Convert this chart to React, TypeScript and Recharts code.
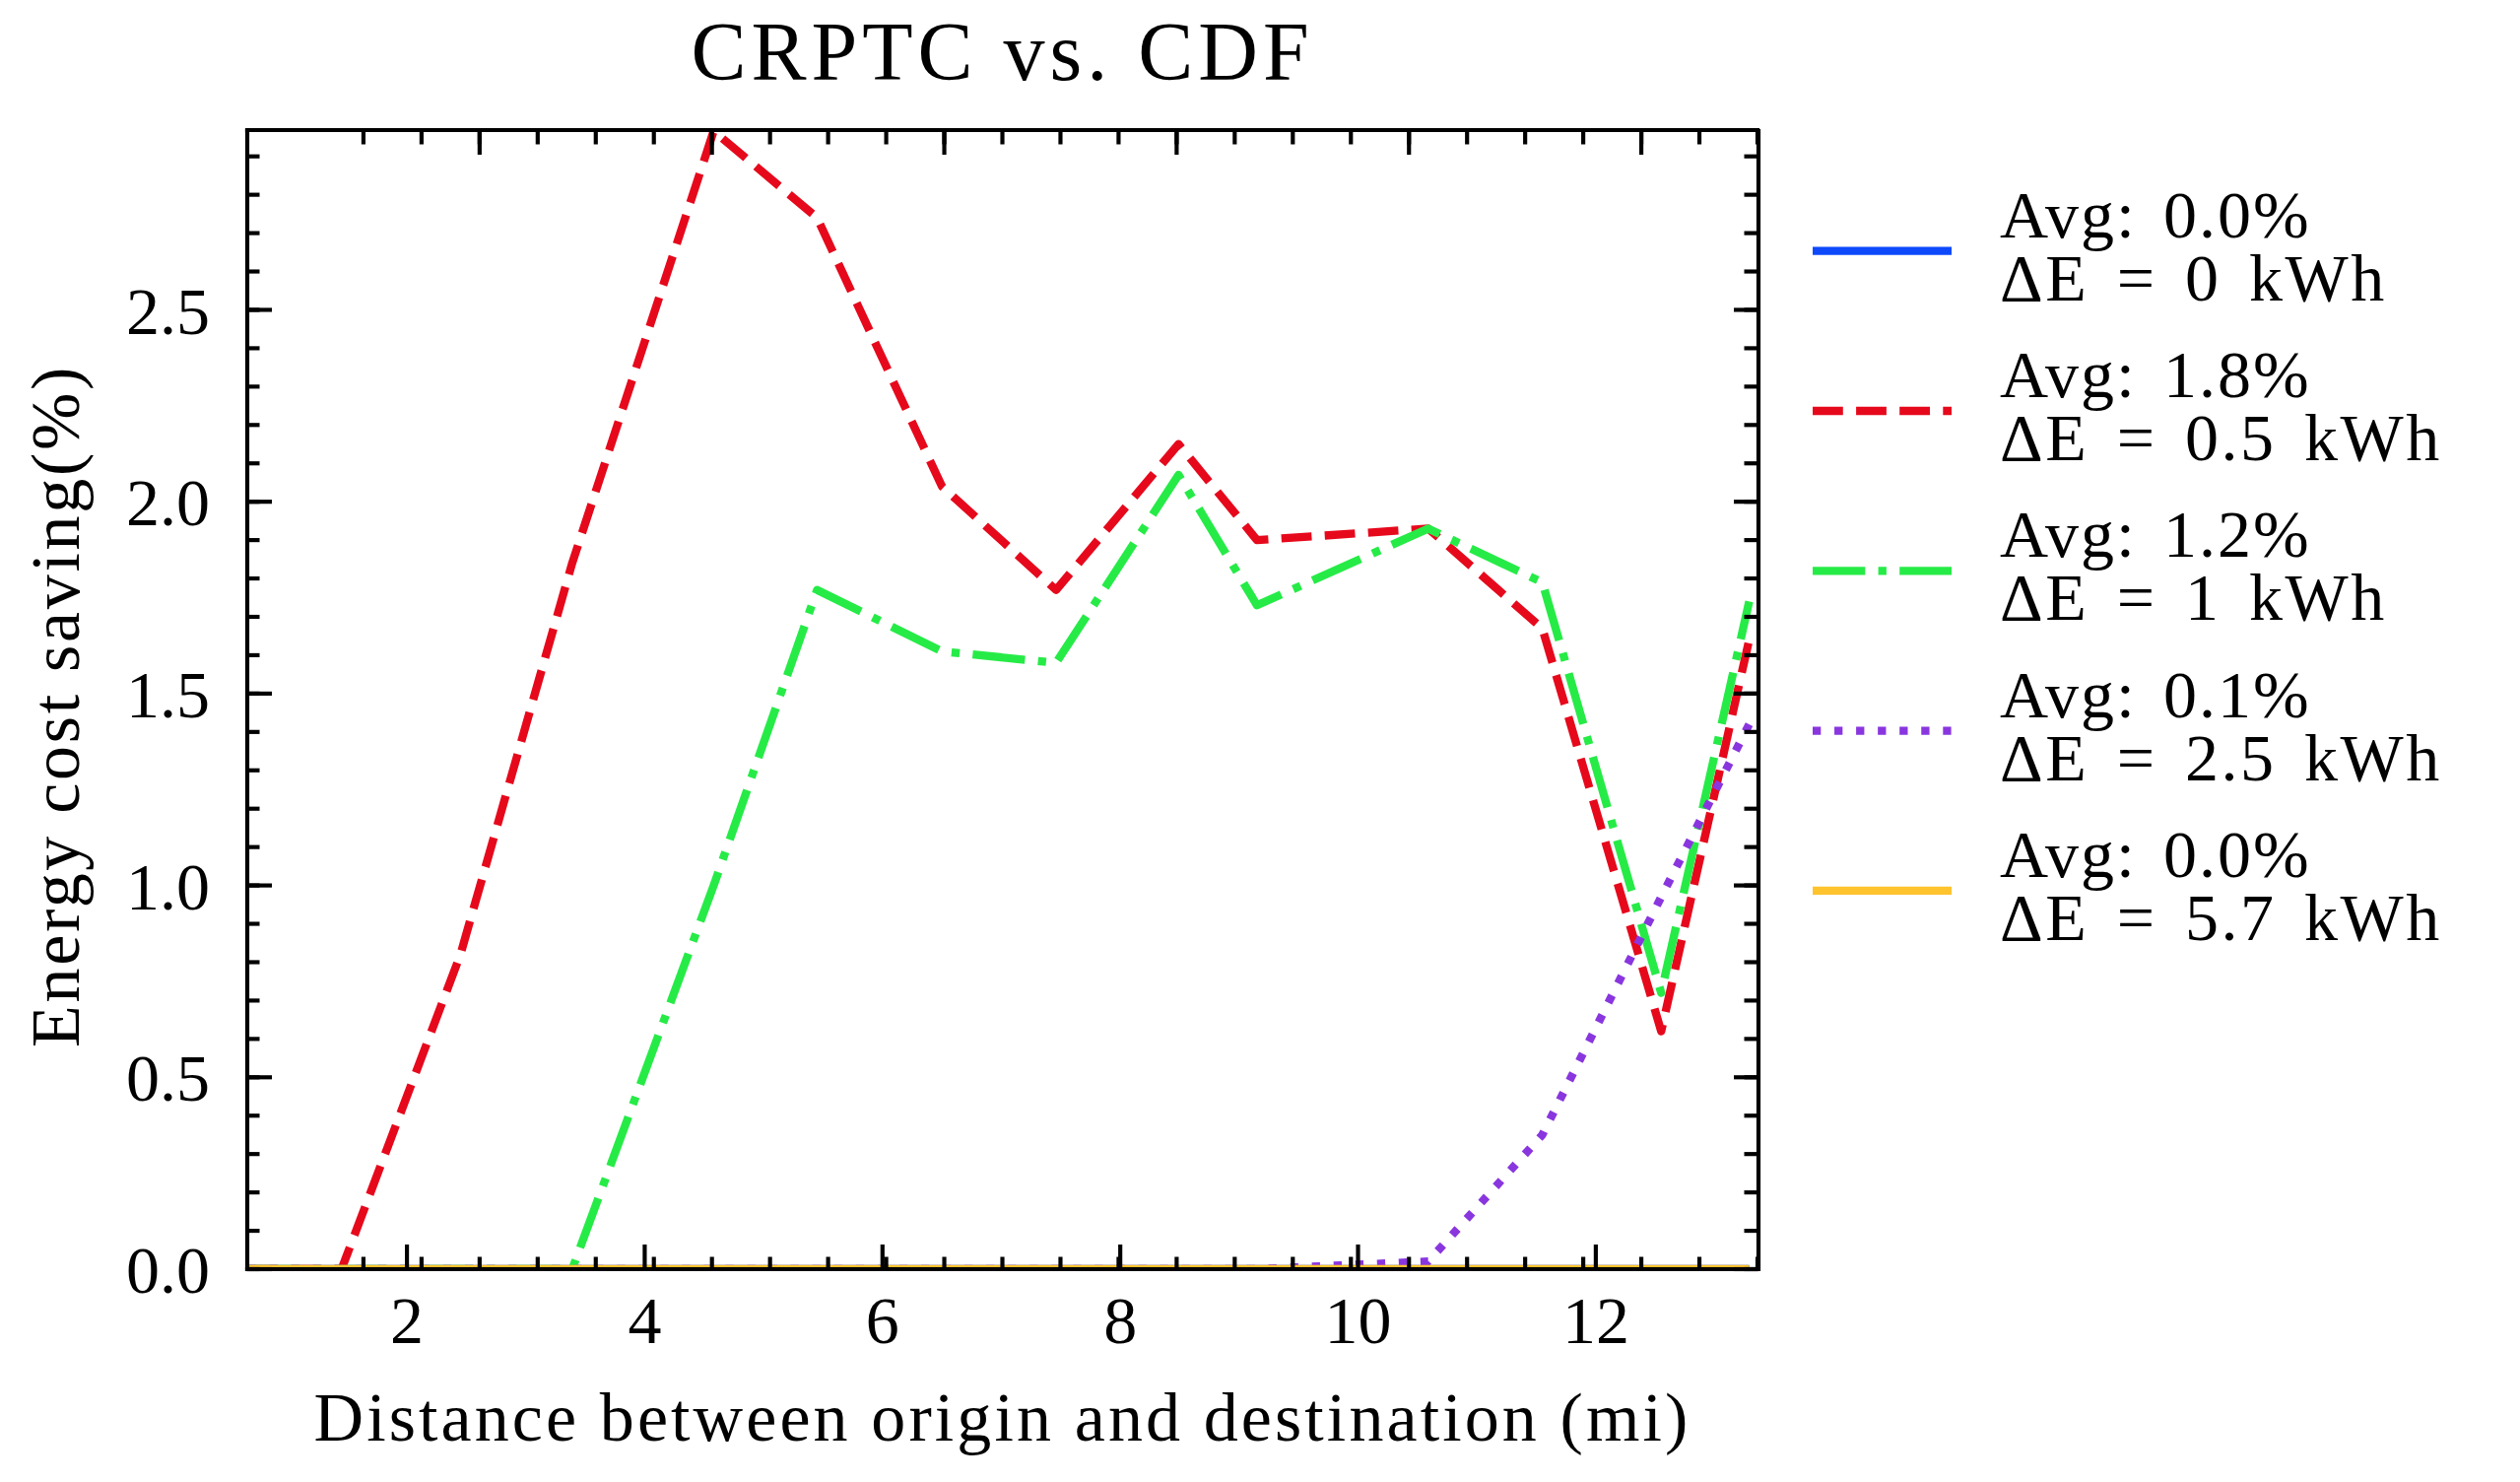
import React from "react";
import { LineChart, Line, XAxis, YAxis, Legend, Label } from "recharts";

// distance between origin and destination (mi)
const distance = [0.66, 1.45, 2.45, 3.39, 4.58, 5.45, 6.5, 7.46, 8.49, 9.15, 10.59, 11.55, 12.55, 13.29];

// energy cost saving (%) per delta-E setting
const savingE0 = [0, 0, 0, 0, 0, 0, 0, 0, 0, 0, 0, 0, 0, 0];
const savingE05 = [0, 0, 0.82, 1.84, 2.966, 2.74, 2.04, 1.77, 2.15, 1.9, 1.93, 1.67, 0.62, 1.64];
const savingE1 = [0, 0, 0, 0, 1.0, 1.77, 1.61, 1.58, 2.07, 1.73, 1.93, 1.79, 0.72, 1.74];
const savingE25 = [0, 0, 0, 0, 0, 0, 0, 0, 0, 0, 0.02, 0.35, 0.97, 1.42];
const savingE57 = [0, 0, 0, 0, 0, 0, 0, 0, 0, 0, 0, 0, 0, 0];

const avgLabels = ["0.0%", "1.8%", "1.2%", "0.1%", "0.0%"];
const deltaE = ["0", "0.5", "1", "2.5", "5.7"];

const xMajorTicks = [2, 4, 6, 8, 10, 12];
const yMajorTicks = [0, 0.5, 1, 1.5, 2, 2.5];
const xMinorTicks = Array.from({ length: 25 }, (_, i) => 1 + i * 0.5);
const yMinorTicks = Array.from({ length: 30 }, (_, i) => i / 10);

const X_DOMAIN = [0.657, 13.36];
const Y_DOMAIN = [0, 2.966];

const FONT = "'Liberation Serif', 'Times New Roman', serif";
const LW = 8.33;
const AXIS_W = 4.17;

const series = [
  { key: "e0", values: savingE0, color: "#0d49fb", dash: undefined },
  { key: "e05", values: savingE05, color: "#e6091c", dash: "30.8 13.3" },
  { key: "e1", values: savingE1, color: "#26eb47", dash: "53.3 13.3 8.3 13.3" },
  { key: "e25", values: savingE25, color: "#8936df", dash: "8.3 13.75" },
  { key: "e57", values: savingE57, color: "#fec32d", dash: undefined },
];

const data = distance.map((d, i) => {
  const row: Record<string, number> = { distance: d };
  series.forEach((s) => (row[s.key] = s.values[i]));
  return row;
});

const blankTick = () => <g />;
const lineStyle = { stroke: "#000", strokeWidth: AXIS_W };
const frameStyle = { stroke: "#000", strokeWidth: AXIS_W, strokeLinecap: "square" };

function LegendBox() {
  return (
    <svg width={728} height={860} style={{ overflow: "visible" }}>
      {series.map((s, i) => {
        const y = 104.7 + i * 162.3;
        return (
          <g key={s.key}>
            <line
              x1={10}
              x2={151}
              y1={y}
              y2={y}
              stroke={s.color}
              strokeWidth={LW}
              strokeDasharray={s.dash}
            />
            <text x={200} y={y - 14} fontFamily={FONT} fontSize={68} fill="#000" wordSpacing={8} letterSpacing={2}>
              {`Avg: ${avgLabels[i]}`}
            </text>
            <text x={200} y={y + 50} fontFamily={FONT} fontSize={68} fill="#000" wordSpacing={9} letterSpacing={2.5}>
              {`ΔE = ${deltaE[i]} kWh`}
            </text>
          </g>
        );
      })}
    </svg>
  );
}

const YLabel = (props: any) => {
  const vb = props.viewBox;
  const cx = vb.x + vb.width - 171;
  const cy = vb.y + vb.height / 2 + 6;
  return (
    <text
      x={cx}
      y={cy}
      transform={`rotate(-90, ${cx}, ${cy})`}
      textAnchor="middle"
      fontFamily={FONT}
      fontSize={70}
      letterSpacing={2.7}
      fill="#000"
    >
      Energy cost saving(%)
    </text>
  );
};

export default function App() {
  return (
    <div style={{ position: "absolute", left: 0, top: 0, background: "#fff" }}>
      <LineChart
        width={2558}
        height={1504}
        data={data}
        margin={{ top: 131, right: 772, bottom: 214, left: 249 }}
        style={{ fontFamily: FONT }}
      >
        {series.map((s) => (
          <Line
            key={s.key}
            xAxisId="main"
            yAxisId="main"
            type="linear"
            dataKey={s.key}
            stroke={s.color}
            strokeWidth={LW}
            strokeDasharray={s.dash}
            strokeLinejoin="round"
            dot={false}
            activeDot={false}
            isAnimationActive={false}
          />
        ))}

        <XAxis
          xAxisId="main"
          dataKey="distance"
          type="number"
          domain={X_DOMAIN}
          allowDataOverflow
          ticks={xMajorTicks}
          interval={0}
          height={1}
          tickSize={-25}
          tickMargin={52}
          tickLine={lineStyle}
          axisLine={frameStyle}
          tick={{ fontSize: 68, fill: "#000", fontFamily: FONT }}
        >
          <Label
            value="Distance between origin and destination (mi)"
            position="bottom"
            offset={123}
            fontSize={70}
            letterSpacing={3.1}
            fill="#000"
            fontFamily={FONT}
          />
        </XAxis>
        <XAxis
          xAxisId="minorBottom"
          type="number"
          domain={X_DOMAIN}
          allowDataOverflow
          ticks={xMinorTicks}
          interval={0}
          height={1}
          tickSize={-13.5}
          tickLine={lineStyle}
          axisLine={false}
          tick={blankTick}
        />
        <XAxis
          xAxisId="top"
          orientation="top"
          type="number"
          domain={X_DOMAIN}
          allowDataOverflow
          ticks={xMajorTicks}
          interval={0}
          height={1}
          tickSize={-25}
          tickLine={lineStyle}
          axisLine={frameStyle}
          tick={blankTick}
        >
          <Label
            value="CRPTC vs. CDF"
            position="top"
            offset={50}
            fontSize={84}
            letterSpacing={5}
            fill="#000"
            fontFamily={FONT}
          />
        </XAxis>
        <XAxis
          xAxisId="minorTop"
          orientation="top"
          type="number"
          domain={X_DOMAIN}
          allowDataOverflow
          ticks={xMinorTicks}
          interval={0}
          height={1}
          tickSize={-13.5}
          tickLine={lineStyle}
          axisLine={false}
          tick={blankTick}
        />

        <YAxis
          yAxisId="main"
          type="number"
          domain={Y_DOMAIN}
          allowDataOverflow
          ticks={yMajorTicks}
          interval={0}
          width={1}
          tickSize={-25}
          tickMargin={63}
          tickLine={lineStyle}
          axisLine={frameStyle}
          tick={{ fontSize: 68, fill: "#000", fontFamily: FONT }}
          tickFormatter={(v: number) => v.toFixed(1)}
        >
          <Label content={YLabel} />
        </YAxis>
        <YAxis
          yAxisId="minorLeft"
          type="number"
          domain={Y_DOMAIN}
          allowDataOverflow
          ticks={yMinorTicks}
          interval={0}
          width={1}
          tickSize={-13.5}
          tickLine={lineStyle}
          axisLine={false}
          tick={blankTick}
        />
        <YAxis
          yAxisId="right"
          orientation="right"
          type="number"
          domain={Y_DOMAIN}
          allowDataOverflow
          ticks={yMajorTicks}
          interval={0}
          width={1}
          tickSize={-25}
          tickLine={lineStyle}
          axisLine={frameStyle}
          tick={blankTick}
        />
        <YAxis
          yAxisId="minorRight"
          orientation="right"
          type="number"
          domain={Y_DOMAIN}
          allowDataOverflow
          ticks={yMinorTicks}
          interval={0}
          width={1}
          tickSize={-13.5}
          tickLine={lineStyle}
          axisLine={false}
          tick={blankTick}
        />

        <Legend
          layout="horizontal"
          verticalAlign="middle"
          align="center"
          content={() => <LegendBox />}
          wrapperStyle={{ left: 1830, top: 150, width: 728, height: 860 }}
        />
      </LineChart>
    </div>
  );
}
